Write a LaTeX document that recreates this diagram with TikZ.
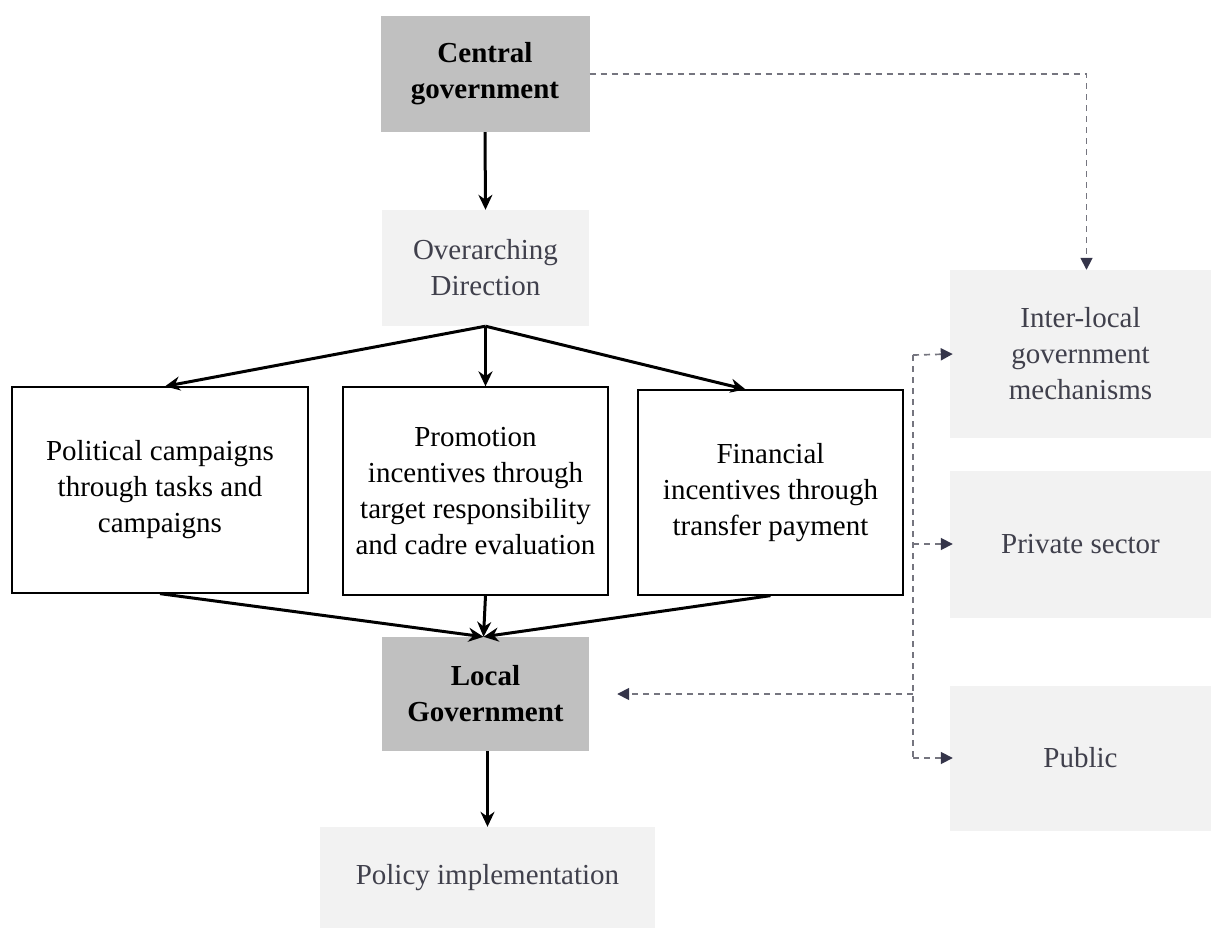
\documentclass[tikz,border=0pt]{standalone}
\usepackage{fontspec}
\setmainfont{Liberation Serif}
\usetikzlibrary{arrows.meta}
\definecolor{darkbox}{HTML}{C0C0C0}
\definecolor{lightbox}{HTML}{F2F2F2}
\definecolor{softtext}{HTML}{40404C}
\definecolor{dashgray}{HTML}{75757F}
\definecolor{tipgray}{HTML}{35354A}
\tikzset{
  every node/.style={font=\fontsize{29}{36}\selectfont, align=center, inner sep=0pt},
  darkbx/.style={fill=darkbox, minimum width=209pt, minimum height=116pt, font=\fontsize{29}{36}\selectfont\bfseries},
  lightbx/.style={fill=lightbox, text=softtext},
  whitebx/.style={draw=black, line width=1.3pt, fill=white},
  mainarrow/.style={line width=3pt, -{Stealth[length=15pt,width=14pt]}},
  dashline/.style={draw=dashgray, line width=1.7pt, dash pattern=on 6pt off 5pt},
  dasharrow/.style={dashline, -{Triangle[length=12pt,width=12pt,color=tipgray]}}
}
\begin{document}
\begin{tikzpicture}[x=1pt,y=-1pt]
\useasboundingbox (0,0) rectangle (1211,928);
% nodes
\node[darkbx] (cg) at (485,74) {Central\\government};
\node[lightbx, minimum width=207pt, minimum height=116pt] (od) at (485.5,268) {Overarching\\Direction};
\node[whitebx, minimum width=296pt, minimum height=206pt] (pc) at (160,490) {Political campaigns\\through tasks and\\campaigns};
\node[whitebx, minimum width=265pt, minimum height=208pt] (pi) at (475.5,491) {Promotion\\incentives through\\target responsibility\\and cadre evaluation};
\node[whitebx, minimum width=265pt, minimum height=205pt] (fi) at (770.5,492.5) {Financial\\incentives through\\transfer payment};
\node[darkbx, minimum width=207pt, minimum height=114pt] (lg) at (485.5,694) {Local\\Government};
\node[lightbx, minimum width=335pt, minimum height=102pt] (po) at (487.5,878) {Policy implementation};
\node[lightbx, minimum width=261pt, minimum height=168pt] (il) at (1080.5,354) {Inter-local\\government\\mechanisms};
\node[lightbx, minimum width=261pt, minimum height=147pt] (ps) at (1080.5,544) {Private sector};
\node[lightbx, minimum width=261pt, minimum height=145pt] (pu) at (1080.5,758) {Public};
% solid connectors
\draw[mainarrow] (cg.south) -- (od.north);
\draw[mainarrow] (od.south) -- ([xshift=5pt]pc.north);
\draw[mainarrow] (od.south) -- (od.south |- pi.north);
\draw[mainarrow] (od.south) -- ([xshift=-25pt]fi.north);
\coordinate (lgin) at ([xshift=-2pt]lg.north);
\draw[mainarrow] (pc.south) -- (lgin);
\draw[mainarrow] (od.south |- pi.south) -- (lgin);
\draw[mainarrow] (fi.south) -- (lgin);
\draw[mainarrow] ([xshift=2pt]lg.south) -- ([xshift=2pt]lg.south |- po.north);
% dashed connectors
\draw[dasharrow] (cg.east) -| ([xshift=6pt]il.north);
\coordinate (vtop) at (913,355);
\coordinate (vbot) at (913,758);
\draw[dashline] (vtop) -- (vbot);
\draw[dasharrow] (vtop) -- ([xshift=3pt]il.west);
\draw[dasharrow] (vtop |- ps.west) -- ([xshift=3pt]ps.west);
\draw[dasharrow] (vbot) -- ([xshift=3pt]pu.west);
\draw[dasharrow] (vtop |- lg.east) -- ([xshift=28pt]lg.east);
\end{tikzpicture}
\end{document}
